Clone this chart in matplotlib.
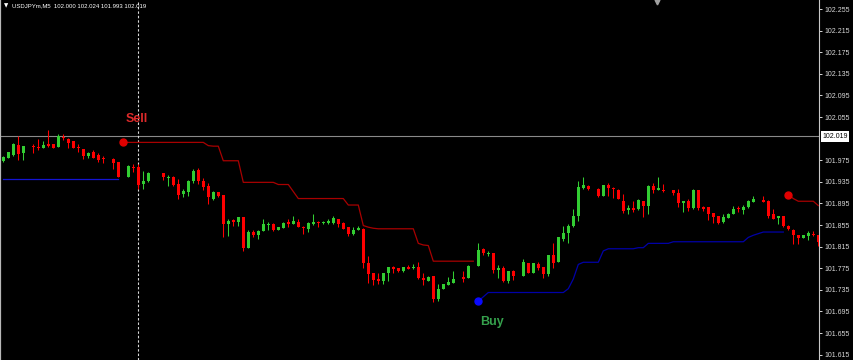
import numpy as np
import matplotlib
matplotlib.use('Agg')
import matplotlib.pyplot as plt
import matplotlib.transforms as mtransforms

# USDJPYm M5 チャート (ローソク足 + ストップライン風インジケーター)
symbol = 'USDJPYm,M5'
header_prices = [102.000, 102.024, 101.993, 102.019]
current_price = 102.019

# ローソク足 (None = 足なし)
opens = [101.973, 101.980, 101.985, 102.003, 101.988, None, 102.002, 101.999, 101.998, 102.005,
         102.005, 101.999, 102.017, 102.015, 102.010, 101.999, 101.996, 101.983, 101.990, 101.985,
         101.978, None, 101.978, 101.972, None, 101.944, 101.963, 101.962, 101.931, 101.936,
         None, None, 101.951, 101.942, 101.943, 101.931, 101.912, 101.917, 101.937, 101.956,
         101.937, 101.928, 101.903, 101.916, 101.911, 101.857, 101.864, 101.861, 101.869, 101.813,
         101.842, 101.836, 101.843, 101.855, 101.857, 101.845, 101.849, 101.861, 101.857, 101.861,
         101.852, 101.848, 101.856, 101.861, 101.858, 101.859, 101.859, 101.866, 101.859, 101.851,
         101.838, 101.846, 101.848, 101.784, 101.767, 101.755, 101.751, 101.766, 101.778, 101.775,
         101.770, 101.777, 101.775, 101.777, 101.756, 101.752, 101.761, 101.718, 101.737, 101.744,
         101.748, None, 101.758, 101.756, None, 101.780, 101.811, 101.801, 101.803, 101.772,
         101.776, 101.752, 101.769, None, 101.760, 101.784, 101.767, 101.783, 101.778, 101.764,
         101.799, 101.786, 101.830, 101.841, 101.853, 101.872, 101.923, 101.928, None, 101.922,
         101.909, 101.929, 101.923, 101.920, 101.900, 101.882, 101.887, 101.884, 101.899, 101.891,
         101.927, 101.919, 101.920, None, 101.920, 101.914, 101.896, 101.900, 101.886, 101.919,
         101.888, 101.888, 101.878, 101.872, 101.861, 101.868, 101.875, 101.886, 101.883, 101.888,
         101.898, None, 101.901, 101.900, 101.875, 101.868, 101.872, 101.853, 101.845, 101.836,
         101.831, 101.834, 101.838, 101.836]
highs = [101.983, 101.991, 102.007, 102.020, 102.001, None, 102.005, 102.014, 102.010, 102.031,
         102.005, 102.024, 102.024, 102.017, 102.010, 102.005, 101.996, 101.991, 101.993, 101.988,
         101.983, None, 101.980, 101.972, None, 101.967, 101.968, 101.968, 101.955, 101.953,
         None, None, 101.951, 101.948, 101.946, 101.940, 101.922, 101.938, 101.959, 101.960,
         101.942, 101.932, 101.918, 101.916, 101.911, 101.866, 101.867, 101.869, 101.870, 101.845,
         101.846, 101.845, 101.866, 101.860, 101.858, 101.851, 101.861, 101.867, 101.872, 101.866,
         101.853, 101.861, 101.875, 101.862, 101.862, 101.866, 101.872, 101.866, 101.860, 101.851,
         101.851, 101.854, 101.849, 101.798, 101.767, 101.767, 101.767, 101.778, 101.779, 101.775,
         101.777, 101.781, 101.783, 101.786, 101.767, 101.761, 101.761, 101.746, 101.746, 101.758,
         101.770, None, 101.770, 101.781, None, 101.821, 101.812, 101.806, 101.803, 101.781,
         101.780, 101.769, 101.771, None, 101.792, 101.784, 101.784, 101.787, 101.778, 101.799,
         101.821, 101.833, 101.854, 101.857, 101.885, 101.936, 101.944, 101.930, None, 101.923,
         101.929, 101.932, 101.925, 101.922, 101.912, 101.892, 101.899, 101.904, 101.899, 101.929,
         101.933, 101.943, 101.931, None, 101.920, 101.922, 101.900, 101.903, 101.921, 101.920,
         101.891, 101.888, 101.878, 101.872, 101.875, 101.877, 101.891, 101.891, 101.892, 101.901,
         101.909, None, 101.909, 101.901, 101.885, 101.872, 101.872, 101.855, 101.847, 101.836,
         101.837, 101.843, 101.844, 101.836]
lows = [101.971, 101.979, 101.983, 101.975, 101.975, None, 101.989, 101.994, 101.998, 102.000,
        101.997, 101.999, 102.012, 101.997, 101.997, 101.991, 101.977, 101.980, 101.979, 101.971,
        101.969, None, 101.958, 101.944, None, 101.944, 101.954, 101.922, 101.921, 101.935,
        None, None, 101.938, 101.928, 101.928, 101.903, 101.907, 101.909, 101.932, 101.931,
        101.920, 101.894, 101.901, 101.906, 101.832, 101.835, 101.854, 101.854, 101.807, 101.813,
        101.833, 101.829, 101.843, 101.845, 101.844, 101.845, 101.849, 101.852, 101.857, 101.851,
        101.838, 101.842, 101.855, 101.851, 101.857, 101.857, 101.857, 101.852, 101.847, 101.835,
        101.837, 101.845, 101.775, 101.748, 101.743, 101.746, 101.745, 101.752, 101.767, 101.768,
        101.768, 101.774, 101.774, 101.755, 101.743, 101.751, 101.712, 101.715, 101.737, 101.744,
        101.748, None, 101.749, 101.756, None, 101.780, 101.799, 101.797, 101.767, 101.756,
        101.749, 101.748, 101.753, None, 101.760, 101.766, 101.766, 101.772, 101.757, 101.761,
        101.775, 101.786, 101.826, 101.822, 101.852, 101.863, 101.922, 101.919, None, 101.906,
        101.909, 101.909, 101.905, 101.903, 101.878, 101.875, 101.879, 101.883, 101.869, 101.875,
        101.915, 101.919, 101.916, None, 101.911, 101.889, 101.879, 101.881, 101.885, 101.883,
        101.881, 101.864, 101.858, 101.857, 101.859, 101.868, 101.875, 101.879, 101.875, 101.886,
        101.898, None, 101.898, 101.868, 101.867, 101.857, 101.851, 101.846, 101.820, 101.820,
        101.831, 101.827, 101.834, 101.816]
closes = [101.981, 101.990, 102.005, 101.987, 102.001, None, 101.999, 101.998, 102.004, 102.001,
          101.998, 102.020, 102.016, 102.007, 101.998, 101.997, 101.983, 101.988, 101.980, 101.975,
          101.977, None, 101.970, 101.944, None, 101.964, 101.961, 101.929, 101.937, 101.951,
          None, None, 101.943, 101.944, 101.930, 101.911, 101.918, 101.937, 101.955, 101.936,
          101.925, 101.906, 101.916, 101.909, 101.857, 101.863, 101.860, 101.869, 101.813, 101.842,
          101.837, 101.843, 101.857, 101.857, 101.846, 101.851, 101.859, 101.856, 101.863, 101.851,
          101.850, 101.859, 101.860, 101.858, 101.861, 101.863, 101.868, 101.856, 101.848, 101.838,
          101.846, 101.850, 101.784, 101.764, 101.753, 101.752, 101.766, 101.777, 101.774, 101.769,
          101.777, 101.774, 101.778, 101.756, 101.753, 101.759, 101.718, 101.737, 101.746, 101.750,
          101.755, None, 101.755, 101.780, None, 101.809, 101.803, 101.803, 101.772, 101.775,
          101.752, 101.769, 101.760, None, 101.786, 101.767, 101.784, 101.776, 101.765, 101.799,
          101.785, 101.832, 101.841, 101.853, 101.872, 101.925, 101.929, 101.922, None, 101.909,
          101.929, 101.923, 101.921, 101.903, 101.881, 101.887, 101.882, 101.901, 101.891, 101.928,
          101.919, 101.923, 101.918, None, 101.914, 101.896, 101.900, 101.886, 101.920, 101.886,
          101.884, 101.875, 101.869, 101.859, 101.870, 101.875, 101.885, 101.884, 101.889, 101.900,
          101.903, None, 101.898, 101.872, 101.867, 101.872, 101.853, 101.847, 101.836, 101.831,
          101.836, 101.840, 101.836, 101.824]

# インジケーター (開始バー番号 + 値)
blue1_start = 0
blue1_vals = [101.940] * 24
sell_start = 24
sell_vals = [102.008, 102.008, 102.008, 102.008, 102.008, 102.008, 102.008, 102.008, 102.008,
             102.008, 102.008, 102.008, 102.008, 102.008, 102.008, 102.008, 102.008,
             102.002, 102.001, 102.001,
             101.974, 101.974, 101.974, 101.974,
             101.934, 101.934, 101.934, 101.934, 101.934, 101.934, 101.934,
             101.930, 101.930, 101.930, 101.917,
             101.904, 101.904, 101.904, 101.904, 101.904, 101.904, 101.904, 101.904, 101.904, 101.904,
             101.892, 101.892, 101.892, 101.854, 101.851, 101.849,
             101.848, 101.848, 101.848, 101.848, 101.848, 101.848, 101.848, 101.848,
             101.821, 101.818, 101.817,
             101.788, 101.788, 101.788, 101.788, 101.788, 101.788, 101.788, 101.788, 101.788]
buy_start = 95
buy_vals = [101.714, 101.722,
            101.730, 101.730, 101.730, 101.730, 101.730, 101.730, 101.730, 101.730,
            101.730, 101.730, 101.730, 101.730, 101.730, 101.730, 101.730, 101.730,
            101.737, 101.755, 101.782,
            101.786, 101.786, 101.786, 101.786, 101.807,
            101.811, 101.811, 101.811, 101.811, 101.811, 101.811, 101.813, 101.813,
            101.821, 101.821, 101.821, 101.821, 101.821,
            101.824, 101.824, 101.824, 101.824, 101.824, 101.824, 101.824, 101.824,
            101.824, 101.824, 101.824, 101.824, 101.824, 101.824, 101.824,
            101.832, 101.836, 101.839,
            101.842, 101.842, 101.842, 101.842, 101.842]
sell2_start = 157
sell2_vals = [101.911, 101.904, 101.899, 101.899, 101.899, 101.899, 101.891]

cursor_bar = 27
price_ticks = [101.615, 101.655, 101.695, 101.735, 101.775, 101.815, 101.855, 101.895, 101.935,
               101.975, 102.055, 102.095, 102.135, 102.175, 102.215, 102.255]

UP = '#32cd32'
DOWN = '#ff0000'

fig = plt.figure(figsize=(8.54, 3.6), dpi=100, facecolor='black')
ax = fig.add_axes([0, 0, 819 / 854, 1])
ax.set_facecolor('black')

o = np.array(opens, dtype=float)
h = np.array(highs, dtype=float)
l = np.array(lows, dtype=float)
c = np.array(closes, dtype=float)
idx = np.arange(len(o))
ok = ~np.isnan(o)
cols = np.where(c >= o, UP, DOWN)

ax.vlines(idx[ok], l[ok], h[ok], colors=cols[ok], lw=0.75, zorder=3)
body_lo = np.minimum(o, c)
body_h = np.maximum(np.abs(c - o), 0.0017)
ax.bar(idx[ok], body_h[ok], bottom=body_lo[ok], width=0.62, color=cols[ok], linewidth=0, zorder=4)

# 現在値ライン
ax.axhline(current_price, color='#8a8a8a', lw=0.8, zorder=2)
# カーソル
ax.axvline(cursor_bar, color='#d8d8d8', lw=0.8, ls=(0, (2.2, 1.8)), zorder=2)

# インジケーター
ax.plot(np.arange(blue1_start, blue1_start + len(blue1_vals)), blue1_vals, color='#1414d2', lw=0.9, zorder=5)
ax.plot(np.arange(sell_start, sell_start + len(sell_vals)), sell_vals, color='#a80000', lw=0.9, zorder=5)
ax.plot(np.arange(buy_start, buy_start + len(buy_vals)), buy_vals, color='#0000a8', lw=0.9, zorder=5)
ax.plot(np.arange(sell2_start, sell2_start + len(sell2_vals)), sell2_vals, color='#a80000', lw=0.9, zorder=5)

ax.plot([sell_start], [sell_vals[0]], 'o', color='#e00000', ms=5, zorder=6)
ax.plot([buy_start], [buy_vals[0]], 'o', color='#0a0aff', ms=5, zorder=6)
ax.plot([sell2_start], [sell2_vals[0]], 'o', color='#e00000', ms=5, zorder=6)

ax.annotate('Sell', (sell_start, sell_vals[0]), xytext=(13, 23), textcoords='offset pixels',
            ha='center', va='center', color='#dd2a2a', fontsize=9, fontweight='bold',
            family='Liberation Sans', zorder=7)
ax.annotate('Buy', (buy_start, buy_vals[0]), xytext=(14, -21), textcoords='offset pixels',
            ha='center', va='center', color='#35a04c', fontsize=9, fontweight='bold',
            family='Liberation Sans', zorder=7)

ax.set_xlim(-0.66, 163.14)
ax.set_ylim(101.605, 102.2717)
ax.set_xticks([])
ax.yaxis.tick_right()
ax.set_yticks(price_ticks)
ax.set_yticklabels([f'{p:.3f}' for p in price_ticks])
ax.tick_params(axis='y', colors='#d8d8d8', length=2.5, width=0.7, pad=1.5, labelsize=5)
for lab in ax.get_yticklabels():
    lab.set_family('Liberation Sans')

for s in ['top', 'bottom']:
    ax.spines[s].set_visible(False)
ax.spines['right'].set_color('#c8c8c8')
ax.spines['right'].set_linewidth(0.8)
ax.spines['left'].set_color('#b8b8b8')
ax.spines['left'].set_linewidth(1.6)

# 現在値ラベル
trans = mtransforms.blended_transform_factory(ax.transAxes, ax.transData)
ax.text(1.004, current_price, f'{current_price:.3f}', transform=trans, ha='left', va='center',
        fontsize=5, color='black', family='Liberation Sans', clip_on=False,
        bbox=dict(facecolor='white', edgecolor='none', pad=1.2))

# チャートシフトマーカー
ax.plot([0.802], [0.994], marker='v', color='#a0a0a0', ms=3.5, transform=ax.transAxes, clip_on=False)

# ヘッダー
fig.text(4 / 854, 1 - 5.5 / 360, '\u25bc', color='white', fontsize=4, va='center', ha='left',
         family=['DejaVu Sans'])
head = symbol + '  ' + ' '.join(f'{p:.3f}' for p in header_prices)
fig.text(12 / 854, 1 - 5.5 / 360, head, color='white', fontsize=4.3, va='center', ha='left',
         family='Liberation Sans')

fig.savefig('out.png', dpi=100, facecolor='black')
